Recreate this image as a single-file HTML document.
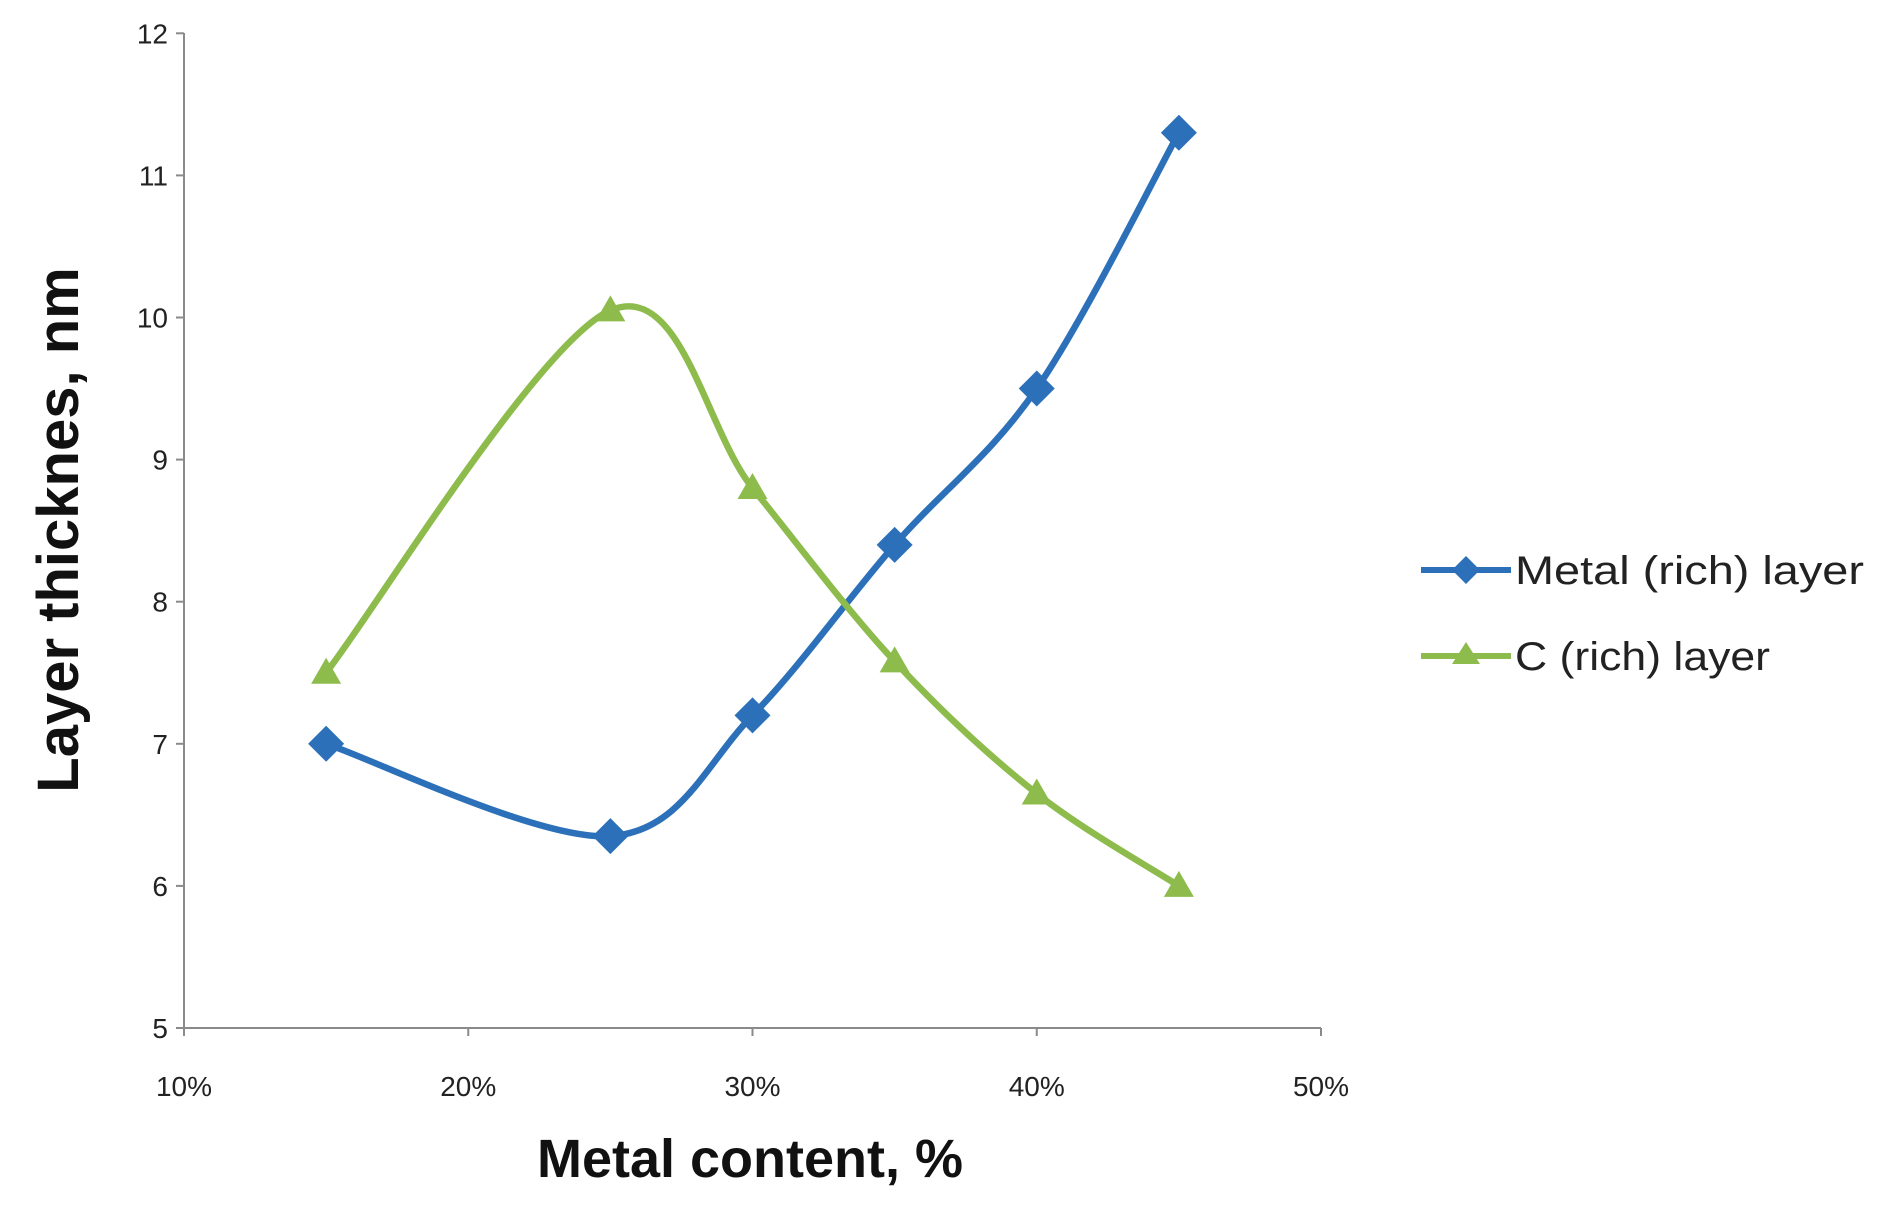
<!DOCTYPE html>
<html><head><meta charset="utf-8"><style>
html,body{margin:0;padding:0;background:#fff;}
svg{display:block;}
text{font-family:"Liberation Sans",sans-serif;}
</style></head><body>
<svg id="s" width="1888" height="1220" xmlns="http://www.w3.org/2000/svg">
<g stroke="#8a8a8a" stroke-width="2" fill="none">
<line x1="184" y1="33" x2="184" y2="1028"/>
<line x1="184" y1="1028" x2="1321" y2="1028"/>
</g>
<g id="ticks" stroke="#8a8a8a" stroke-width="2"></g>
<g id="labels" font-size="28" fill="#222"></g>
<text x="750" y="1177" font-size="54" font-weight="bold" text-anchor="middle" fill="#111">Metal content, %</text>
<text transform="translate(78,530) rotate(-90)" font-size="58" font-weight="bold" text-anchor="middle" fill="#111">Layer thicknes, nm</text>
<path id="pm" fill="none" stroke="#2b70b8" stroke-width="6.5"/>
<path id="pc" fill="none" stroke="#8dbb4c" stroke-width="6.5"/>
<g id="mk"></g>
<line x1="1421" y1="570" x2="1511" y2="570" stroke="#2b70b8" stroke-width="6"/>
<polygon points="1466,556 1480,570 1466,584 1452,570" fill="#2b70b8"/>
<text x="1515" y="584" font-size="40" fill="#222" textLength="349" lengthAdjust="spacingAndGlyphs">Metal (rich) layer</text>
<line x1="1421" y1="656" x2="1511" y2="656" stroke="#8dbb4c" stroke-width="6"/>
<polygon points="1466,642 1480,664 1452,664" fill="#8dbb4c"/>
<text x="1515" y="670" font-size="40" fill="#222" textLength="255" lengthAdjust="spacingAndGlyphs">C (rich) layer</text>
</svg>
<script>
var NS="http://www.w3.org/2000/svg";
function X(p){return 184+(p-10)*28.425;}
function Y(v){return 1028-(v-5)*142.1;}
var t=document.getElementById('ticks'),l=document.getElementById('labels');
function el(p,tag,a,txt){var e=document.createElementNS(NS,tag);for(var k in a)e.setAttribute(k,a[k]);if(txt)e.textContent=txt;p.appendChild(e);}
for(var v=5;v<=12;v++){el(t,'line',{x1:176,x2:184,y1:Y(v),y2:Y(v)});el(l,'text',{x:168,y:Y(v)+10,'text-anchor':'end'},String(v));}
for(var p=10;p<=50;p+=10){el(t,'line',{x1:X(p),x2:X(p),y1:1028,y2:1036});el(l,'text',{x:X(p),y:1096,'text-anchor':'middle'},p+'%');}
var xs=[15,25,30,35,40,45];
var m=[7,6.35,7.2,8.4,9.5,11.3], c=[7.5,10.05,8.8,7.58,6.65,6.0];
function path(vals){var P=xs.map(function(x,i){return [X(x),Y(vals[i])];});
var d='M'+P[0][0]+','+P[0][1];
for(var i=0;i<P.length-1;i++){var p0=P[Math.max(i-1,0)],p1=P[i],p2=P[i+1],p3=P[Math.min(i+2,P.length-1)];
var c1=[p1[0]+(p2[0]-p0[0])/6,p1[1]+(p2[1]-p0[1])/6],c2=[p2[0]-(p3[0]-p1[0])/6,p2[1]-(p3[1]-p1[1])/6];
d+=' C'+c1+' '+c2+' '+p2;}return d;}
document.getElementById('pm').setAttribute('d',path(m));
document.getElementById('pc').setAttribute('d',path(c));
var mk=document.getElementById('mk');
xs.forEach(function(x,i){var cx=X(x),cy=Y(c[i]);el(mk,'polygon',{points:cx+','+(cy-15)+' '+(cx+15)+','+(cy+11)+' '+(cx-15)+','+(cy+11),fill:'#8dbb4c'});});
xs.forEach(function(x,i){var cx=X(x),cy=Y(m[i]);el(mk,'polygon',{points:cx+','+(cy-18)+' '+(cx+18)+','+cy+' '+cx+','+(cy+18)+' '+(cx-18)+','+cy,fill:'#2b70b8'});});
</script>
</body></html>
